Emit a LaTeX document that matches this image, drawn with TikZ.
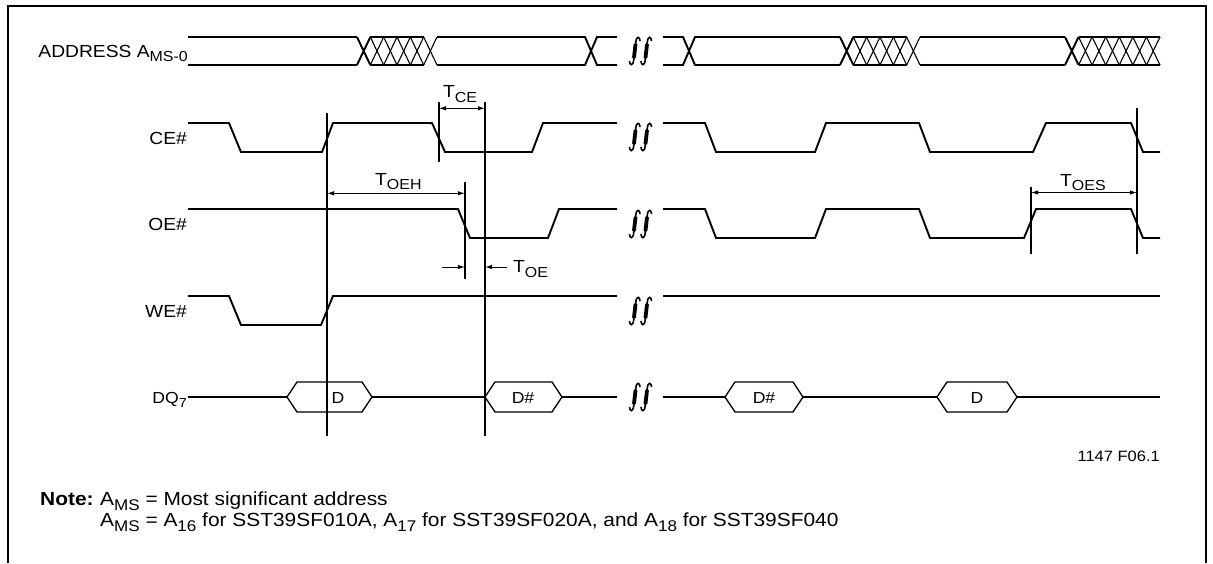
\documentclass[tikz,border=0pt]{standalone}
\usepackage{fontspec}
\setmainfont{Liberation Sans}[FakeStretch=1.1]
\usetikzlibrary{arrows.meta}
\newcommand{\lo}[1]{\raisebox{-4.5pt}{\fontsize{14.5}{14.5}\selectfont #1}}
\newcommand{\nlo}[1]{\raisebox{-4.5pt}{\fontsize{15.5}{15.5}\selectfont #1}}
\newcommand{\hatchbus}[3]{%
  \pgfmathsetmacro{\hp}{(#2-#1)/#3}
  \foreach \k in {1,...,#3}{
    \draw[thinline] ({#1+(\k-1)*\hp},37) -- ({#1+\k*\hp},65);
    \draw[thinline] ({#1+(\k-1)*\hp},65) -- ({#1+\k*\hp},37);
  }
  \draw[sig] (#1,37) -- ({#1+\hp},65) (#1,65) -- ({#1+\hp},37);
  \draw[sig] ({#1+\hp},37) -- ({#2-\hp},37) ({#1+\hp},65) -- ({#2-\hp},65);
}
\tikzset{
  sig/.style={line width=1.9pt},
  thinline/.style={line width=1.1pt},
  dim/.style={line width=1pt,{Latex[length=7pt,width=4.5pt]}-{Latex[length=7pt,width=4.5pt]}},
  onearrow/.style={line width=1pt,-{Latex[length=7pt,width=4.5pt]}},
  lbl/.style={inner sep=0pt,font=\fontsize{17.5}{20}\selectfont},
  note/.style={inner sep=0pt,font=\fontsize{19}{22}\selectfont},
  brk/.pic={
    \foreach \d in {0,11.5}{
      \begin{scope}[shift={(\d,0)}]
        \draw[line width=1.6pt] (11,5) .. controls (11,0.5) and (7.5,-0.5) .. (6.8,6) -- (4.7,24) .. controls (4,30.5) and (0.5,29.5) .. (0.5,25);
        \draw[line width=3.8pt,line cap=round] (6.5,8.5) -- (5,21.5);
      \end{scope}
    }
  }
}
\begin{document}
\begin{tikzpicture}[x=1pt,y=-1pt]
\useasboundingbox (0,0) rectangle (1213,563);
\draw[line width=2.2pt] (8,563) -- (8,6) -- (1206,6) -- (1206,563);

% labels
\node[lbl,anchor=base east] (addr) at (188,57) {ADDRESS A\lo{MS-0}};
\node[lbl,anchor=base east] (ce) at (187,144.3) {CE\#};
\node[lbl,anchor=base east] (oe) at (187,230.2) {OE\#};
\node[lbl,anchor=base east] (we) at (187,317) {WE\#};
\node[inner sep=0pt,font=\fontsize{16}{18}\selectfont,anchor=base east] (dq) at (187,403) {DQ\raisebox{-4pt}{\fontsize{13}{13}\selectfont 7}};

% address
\draw[sig] (188,37) -- (357,37) (188,65) -- (357,65);
\hatchbus{357}{437}{6}
\draw[sig] (437,37) -- (585,37) -- (597,65) -- (617,65);
\draw[sig] (437,65) -- (585,65) -- (597,37) -- (617,37);
\draw[sig] (663,37) -- (683,37) -- (695,65) -- (840,65);
\draw[sig] (663,65) -- (683,65) -- (695,37) -- (840,37);
\hatchbus{840}{920}{6}
\draw[sig] (920,37) -- (1065,37) (920,65) -- (1065,65);
\hatchbus{1065}{1160}{7}
\draw[sig] (1146,37) -- (1160,37) (1146,65) -- (1160,65);

% CE#, OE#, WE#
\draw[sig] (188,123) -- (229,123) -- (241,152) -- (322,152) -- (333,123) -- (432,123) -- (445,152) -- (532,152) -- (543,123) -- (617,123);
\draw[sig] (663,123) -- (705,123) -- (716,152) -- (815,152) -- (826,123) -- (919,123) -- (930,152) -- (1033,152) -- (1046,123) -- (1131,123) -- (1143,152) -- (1160,152);
\draw[sig] (188,209) -- (458,209) -- (470,238) -- (548,238) -- (559,209) -- (617,209);
\draw[sig] (663,209) -- (705,209) -- (716,238) -- (815,238) -- (826,209) -- (919,209) -- (930,238) -- (1024,238) -- (1036,209) -- (1131,209) -- (1143,238) -- (1160,238);
\draw[sig] (188,296) -- (229,296) -- (241,325) -- (321,325) -- (333,296) -- (617,296);
\draw[sig] (663,296) -- (1160,296);

% DQ7
\draw[sig] (188,397) -- (287,397) (372,397) -- (485,397) (562,397) -- (617,397);
\draw[sig] (663,397) -- (725,397) (803,397) -- (937,397) (1017,397) -- (1160,397);
\foreach \a/\b/\t/\c in {287/372/D/338, 485/562/D\#/523, 725/803/D\#/764, 937/1017/D/977}{
  \draw[line width=1.3pt] (\a,397) -- (\a+10,382) -- (\b-10,382) -- (\b,397) -- (\b-10,412) -- (\a+10,412) -- cycle;
  \node[inner sep=0pt,font=\fontsize{16}{18}\selectfont,anchor=base] at (\c,403.3) {\t};
}

% breaks
\foreach \y in {36,122,209,296,382}
  \pic at (629,\y) {brk};

% timing
\draw[thinline] (327,113) -- (327,436);
\draw[thinline] (485,101.7) -- (485,436);
\draw[thinline] (439,101.7) -- (439,161.7);
\draw[thinline] (465,181.7) -- (465,279);
\draw[thinline] (1031,187) -- (1031,254);
\draw[thinline] (1137,108) -- (1137,254);
\draw[dim] (439,108.3) -- (485,108.3);
\draw[dim] (327,193.3) -- (465,193.3);
\draw[dim] (1031,192.5) -- (1137,192.5);
\draw[onearrow] (442,267) -- (465,267);
\draw[onearrow] (507,267) -- (485,267);
\node[lbl,anchor=base west] (tce) at (443,97.5) {T\lo{CE}};
\node[lbl,anchor=base west] (toeh) at (375,185) {T\lo{OEH}};
\node[lbl,anchor=base west] (toes) at (1060,186) {T\lo{OES}};
\node[lbl,anchor=base west] (toe) at (513,272.5) {T\lo{OE}};

% note
\node[inner sep=0pt,font=\fontsize{15}{18}\selectfont,anchor=base east] (fig) at (1160,461.7) {1147 F06.1};
\node[note,anchor=base west] (notehd) at (40,505.5) {\bfseries Note:};
\node[note,anchor=base west] (note1) at (100,505.5) {A\nlo{MS} = Most significant address};
\node[note,anchor=base west] (note2) at (100,526.7) {A\nlo{MS} = A\nlo{16} for SST39SF010A, A\nlo{17} for SST39SF020A, and A\nlo{18} for SST39SF040};
\end{tikzpicture}
\end{document}
